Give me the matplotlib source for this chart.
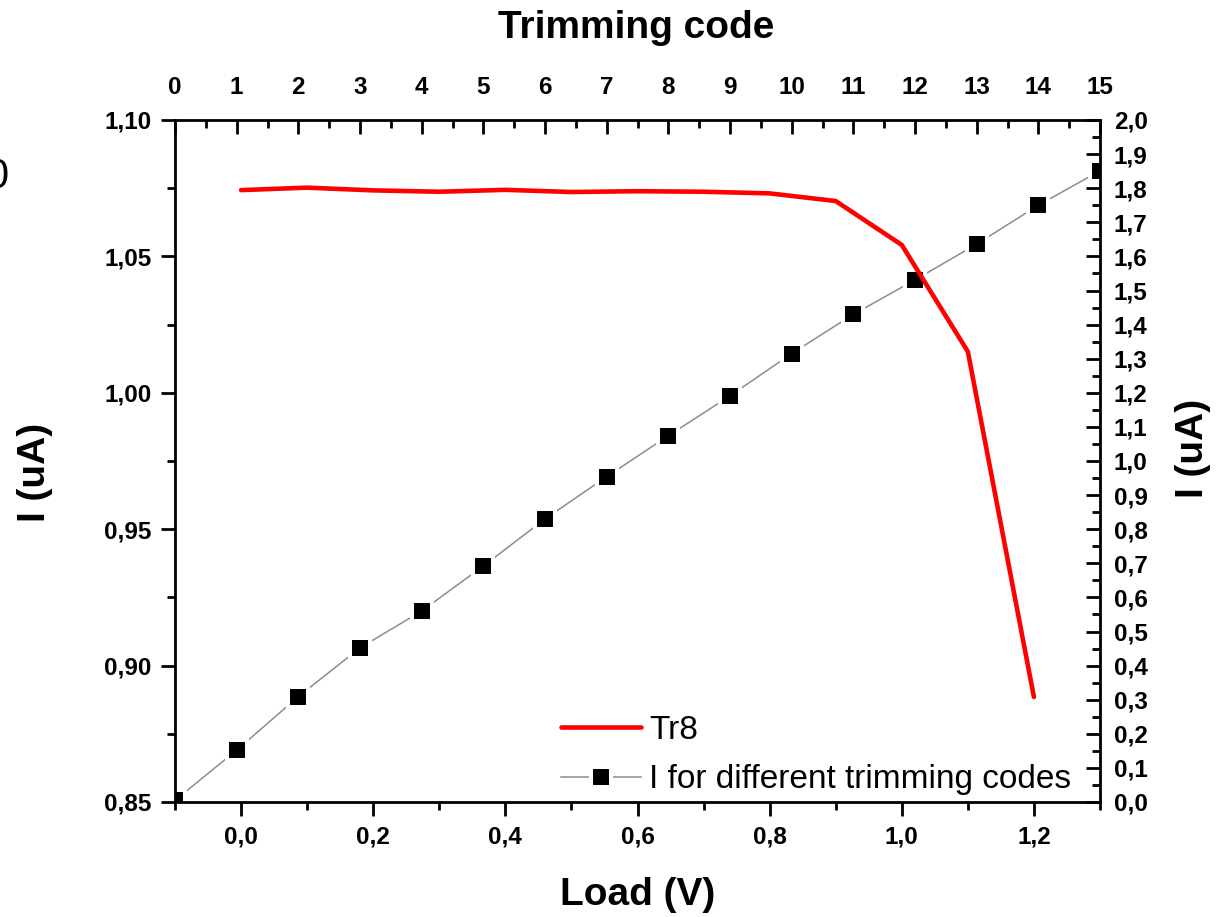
import numpy as np
import matplotlib
matplotlib.use("Agg")
import matplotlib.pyplot as plt
from matplotlib.ticker import MultipleLocator, FuncFormatter

plt.rcParams['font.family'] = ['Liberation Sans', 'DejaVu Sans']

# Dados
load_v = [0.0, 0.1, 0.2, 0.3, 0.4, 0.5, 0.6, 0.7, 0.8, 0.9, 1.0, 1.1, 1.2]
i_tr8 = [1.0743, 1.0752, 1.0742, 1.0737, 1.0744, 1.0736, 1.0739, 1.0737, 1.0731,
         1.0703, 1.0542, 1.0151, 0.8885]

trim_codes = [0, 1, 2, 3, 4, 5, 6, 7, 8, 9, 10, 11, 12, 13, 14, 15]
i_trim = [0.005, 0.152, 0.309, 0.452, 0.560, 0.692, 0.830, 0.954, 1.074, 1.191,
          1.315, 1.430, 1.531, 1.636, 1.750, 1.851]

label_tr8 = "Tr8"
label_trim = "I for different trimming codes"


def virgula(fmt):
    # formata com virgula decimal
    return FuncFormatter(lambda v, p: fmt.format(v).replace('.', ','))


fig = plt.figure(figsize=(12.3, 9.17), dpi=100)
pos = [175 / 1230, 1 - 802 / 917, 925 / 1230, 682 / 917]

# eixo secundario (codigo de trimming / corrente direita)
ax2 = fig.add_axes(pos)
ax2.patch.set_visible(False)
for s in ax2.spines.values():
    s.set_visible(False)

# eixo principal (carga / corrente esquerda)
ax = fig.add_axes(pos)
ax.patch.set_visible(False)
ax.set_zorder(ax2.get_zorder() + 1)

lt, = ax2.plot(trim_codes, i_trim, color='#8c8c8c', lw=1.1, marker='s', ms=13.7,
               mfc='black', mec='white', mew=2.9, label=label_trim)
lr, = ax.plot(load_v, i_tr8, color='#ff0000', lw=3.3, solid_capstyle='round',
              solid_joinstyle='round', label=label_tr8)

ax.set_xlim(-0.1, 1.3)
ax.set_ylim(0.85, 1.10)
ax2.set_xlim(0, 15)
ax2.set_ylim(0.0, 2.0)

ax2.xaxis.tick_top()
ax2.yaxis.tick_right()
ax2.xaxis.set_label_position('top')
ax2.yaxis.set_label_position('right')

ax.xaxis.set_major_locator(MultipleLocator(0.2))
ax.xaxis.set_minor_locator(MultipleLocator(0.1))
ax.yaxis.set_major_locator(MultipleLocator(0.05))
ax.yaxis.set_minor_locator(MultipleLocator(0.025))
ax.xaxis.set_major_formatter(virgula('{:.1f}'))
ax.yaxis.set_major_formatter(virgula('{:.2f}'))

ax2.xaxis.set_major_locator(MultipleLocator(1))
ax2.xaxis.set_minor_locator(MultipleLocator(0.5))
ax2.yaxis.set_major_locator(MultipleLocator(0.1))
ax2.yaxis.set_minor_locator(MultipleLocator(0.05))
ax2.xaxis.set_major_formatter(FuncFormatter(lambda v, p: '{:d}'.format(int(round(v)))))
ax2.yaxis.set_major_formatter(virgula('{:.1f}'))

for s in ax.spines.values():
    s.set_linewidth(2.0)

fs_tick = 17.5
ax.tick_params(axis='both', which='major', direction='out', length=10, width=2,
               labelsize=fs_tick, pad=7)
ax.tick_params(axis='both', which='minor', direction='out', length=5.5, width=2)
ax2.tick_params(axis='x', which='major', direction='in', length=10, width=2,
                labelsize=fs_tick, pad=15)
ax2.tick_params(axis='y', which='major', direction='in', length=10, width=2,
                labelsize=fs_tick, pad=10)
ax2.tick_params(axis='both', which='minor', direction='in', length=5.5, width=2)

for lab in ax.get_xticklabels() + ax.get_yticklabels() + \
        ax2.get_xticklabels() + ax2.get_yticklabels():
    lab.set_fontweight('bold')

# rotulos dos eixos
fig.text(0.518, 0.024, "Load (V)", ha='center', va='center', fontsize=28, fontweight='bold')
fig.text(0.517, 0.970, "Trimming code", ha='center', va='center', fontsize=28, fontweight='bold')
fig.text(0.0285, 0.4853, "I (uA)", ha='center', va='center', rotation=90,
         fontsize=28, fontweight='bold')
fig.text(0.970, 0.5115, "I (uA)", ha='center', va='center', rotation=90,
         fontsize=28, fontweight='bold')

# resto de um rotulo cortado na borda esquerda
fig.text(0.0068, 1 - 177 / 917, "0", ha='right', va='center', fontsize=30)

leg = ax.legend(handles=[lr, lt], loc='lower left', bbox_to_anchor=(0.41, 0.0),
                frameon=False, fontsize=24, handlelength=2.4, handletextpad=0.25,
                labelspacing=0.55, borderpad=0.2, borderaxespad=0.0)

fig.savefig("out.png", dpi=100)
